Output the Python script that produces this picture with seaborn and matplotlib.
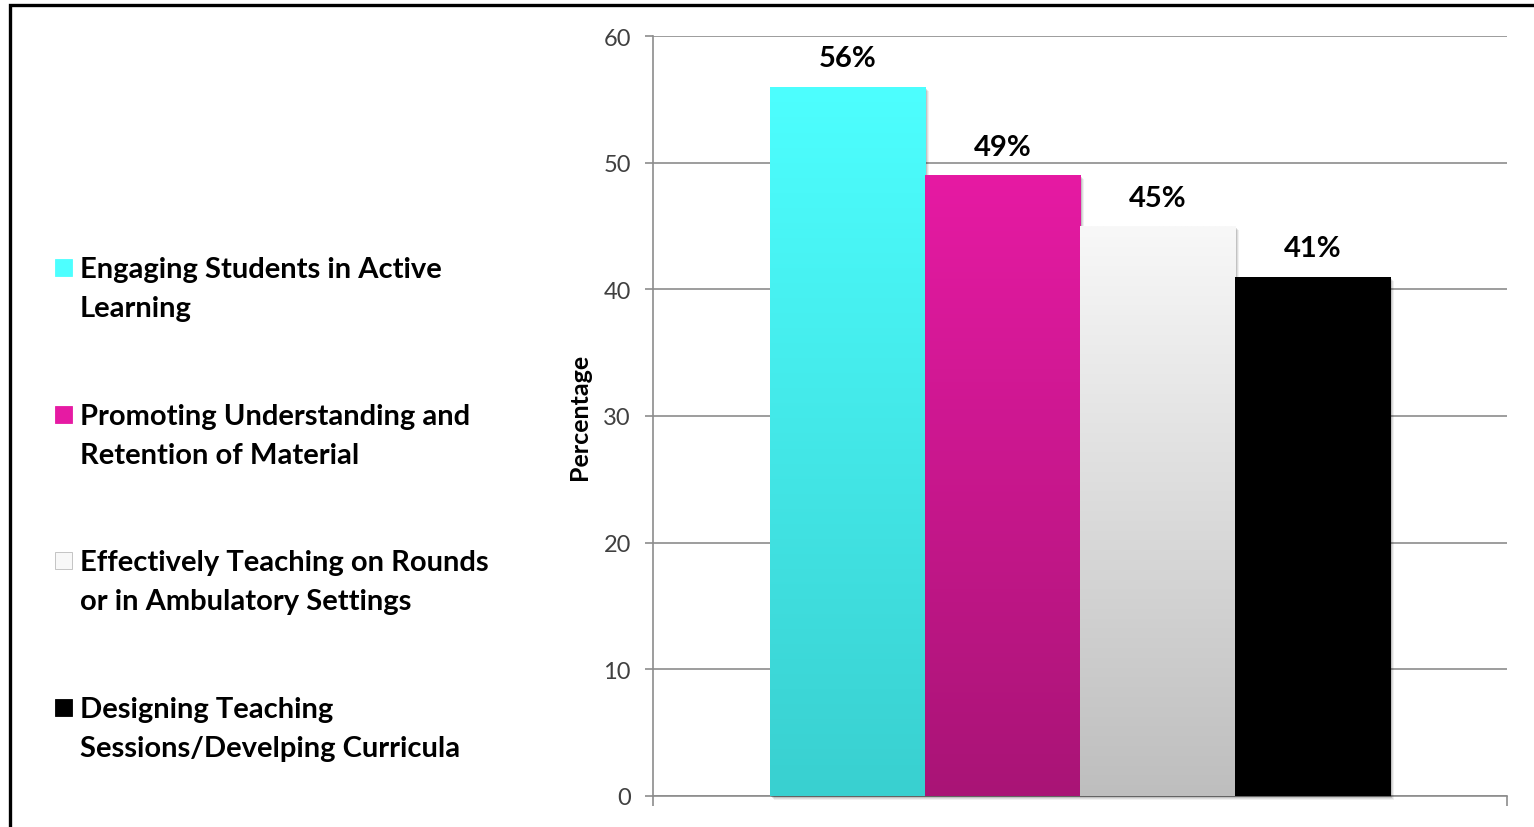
import numpy as np
import pandas as pd
import matplotlib
matplotlib.use("Agg")
import matplotlib.pyplot as plt
import seaborn as sns
from matplotlib.patches import Rectangle
from matplotlib.colors import to_rgb

# ---------------- data ----------------
categories = [
    "Engaging Students in Active\nLearning",
    "Promoting Understanding and\nRetention of Material",
    "Effectively Teaching on Rounds\nor in Ambulatory Settings",
    "Designing Teaching\nSessions/Develping Curricula",
]
values = [56, 49, 45, 41]
value_labels = ["56%", "49%", "45%", "41%"]
yticks = [0, 10, 20, 30, 40, 50, 60]
y_label = "Percentage"

# ---------------- style ----------------
top_colors = ["#4DFFFF", "#E61AA3", "#F8F8F8", "#000000"]
bottom_colors = ["#39D0D0", "#A91476", "#BEBEBE", "#000000"]
grid_color = "#8c8c8c"

sns.set_theme(style="white")
plt.rcParams['font.family'] = ['Lato', 'DejaVu Sans']

W, H = 1534, 828
fig = plt.figure(figsize=(W / 100, H / 100), dpi=100)
ax = fig.add_axes([653 / W, 1 - 797 / H, (1507 - 653) / W, (797 - 37) / H])

df = pd.DataFrame({"group": [""] * len(values), "series": categories, "value": values})
sns.barplot(data=df, x="group", y="value", hue="series", hue_order=categories,
            palette=top_colors, width=0.727, dodge=True, ax=ax, legend=False,
            saturation=1, zorder=3)

ax.set_xlim(-0.5, 0.5)
ax.set_ylim(yticks[0], yticks[-1])

# gradient fills clipped to each seaborn bar, plus a soft shadow
px_x = 1.0 / 854      # one pixel in data x units
px_y = 60.0 / 760     # one pixel in data y units
for cont, tc, bc in zip(ax.containers, top_colors, bottom_colors):
    for patch in cont:
        x0 = patch.get_x()
        w = patch.get_width()
        h = patch.get_height()
        for k, a in [(4, 0.06), (3, 0.08), (2, 0.12), (1, 0.16)]:
            ax.add_patch(Rectangle((x0 + k * px_x, -k * px_y), w, h,
                                   facecolor="#000000", alpha=a, lw=0,
                                   zorder=2.8, clip_on=False))
        grad = np.linspace(0, 1, 256)[:, None, None]
        img = (1 - grad) * np.array(to_rgb(tc)) + grad * np.array(to_rgb(bc))
        im = ax.imshow(img, extent=[x0, x0 + w, 0, h], origin="upper",
                       aspect="auto", zorder=3.5, interpolation="bilinear")
        im.set_clip_path(patch)
        patch.set_edgecolor("none")

ax.set_xlim(-0.5, 0.5)
ax.set_ylim(yticks[0], yticks[-1])

for cont, lab in zip(ax.containers, value_labels):
    ax.bar_label(cont, labels=[lab], padding=11, fontsize=21, fontweight="bold",
                 color="#000000", zorder=5)

# axes styling
ax.set_yticks(yticks)
ax.set_xticks([-0.5, 0.5])
ax.set_xticklabels(["", ""])
ax.set_xlabel("")
ax.yaxis.grid(True, color=grid_color, lw=1.2)
ax.set_axisbelow(True)
for s in ["top", "right"]:
    ax.spines[s].set_visible(False)
for s in ["left", "bottom"]:
    ax.spines[s].set_color(grid_color)
    ax.spines[s].set_linewidth(1.2)
ax.tick_params(axis="y", left=True, length=6, width=1.2, color=grid_color,
               labelsize=17, labelcolor="#404040", pad=10)
ax.tick_params(axis="x", bottom=True, length=7, width=1.2, color=grid_color)
ax.set_ylabel(y_label, fontsize=18, fontweight="bold", color="#000000")
ax.yaxis.set_label_coords(-0.073, 0.5)

# left-side legend
first_baselines = [277, 424, 570, 717]
line_gap = 40
for lab, tc, bc, yb in zip(categories, top_colors, bottom_colors, first_baselines):
    sq = 17
    fig.add_artist(Rectangle((55 / W, 1 - (yb - 0.5) / H), sq / W, sq / H,
                             transform=fig.transFigure, facecolor=tc,
                             edgecolor="#bbbbbb" if tc == "#F8F8F8" else tc, lw=0.6))
    fig.text(80 / W, 1 - (yb + line_gap) / H, lab, fontsize=21, fontweight="bold",
             va="baseline", ha="left", linespacing=1.61, color="#000000")

# figure border (top and left edges visible)
fig.add_artist(Rectangle((10 / W, -0.2), 1.5, 1.2 - 6 / H, transform=fig.transFigure,
                         fill=False, edgecolor="#000000", lw=2.4))

fig.savefig("out.png", dpi=100)
